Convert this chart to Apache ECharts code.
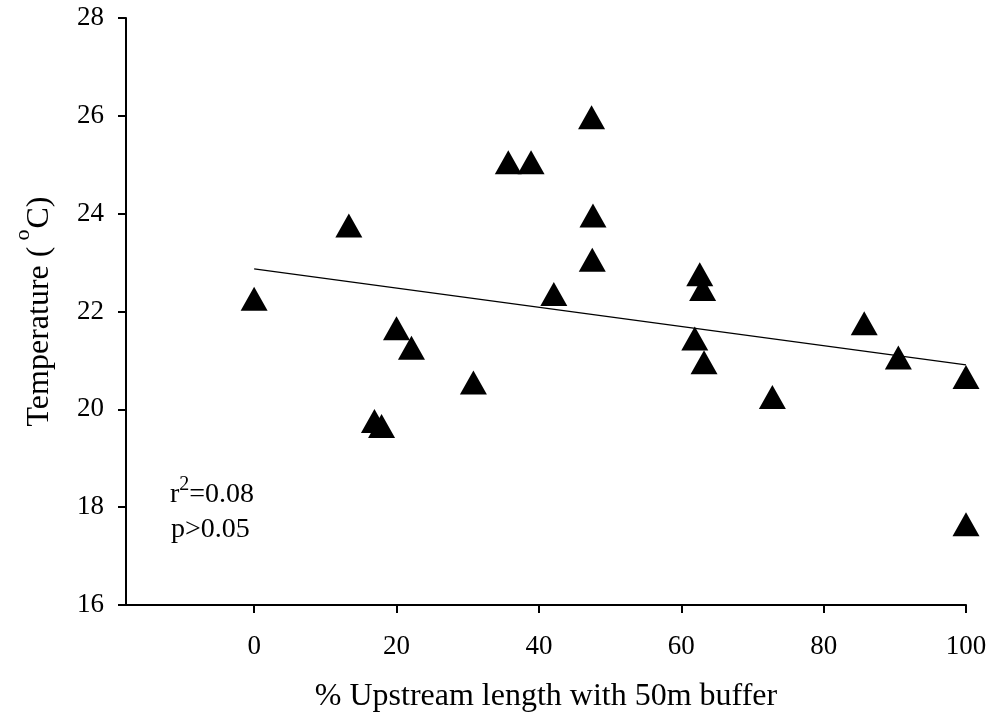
<!DOCTYPE html>
<html><head><meta charset="utf-8">
<script src="https://cdn.jsdelivr.net/npm/echarts@6/dist/echarts.min.js"></script>
<style>html,body{margin:0;padding:0;background:#fff}#c{width:992px;height:721px}</style>
</head><body><div id="c"></div>
<script>
// % upstream length with 50 m buffer
const pctBuffer = [0, 13.3, 16.9, 17.9, 20.0, 22.1, 30.8, 35.7, 38.9, 42.1, 47.4, 47.6, 47.5, 61.9, 62.6, 63.0, 63.2, 72.8, 85.7, 90.5, 100, 100];
// Temperature (°C)
const temperature = [22.26, 23.76, 19.76, 19.66, 21.66, 21.26, 20.55, 25.05, 25.05, 22.36, 25.97, 23.96, 23.06, 21.45, 22.76, 22.46, 20.96, 20.25, 21.76, 21.06, 20.66, 17.65];
// Linear trend line end points
const trendX = [0, 100];
const trendY = [22.87, 20.91];
// Axis ticks
const xTicks = [0, 20, 40, 60, 80, 100];
const yMin = 16, yMax = 28, yStep = 2;
const xMin = -18, xMax = 100;
const statsR2 = '0.08';
const statsP = '0.05';

const FONT = 'Liberation Serif';
const chart = echarts.init(document.getElementById('c'), null, {renderer: 'canvas'});
chart.setOption({
  animation: false,
  backgroundColor: '#ffffff',
  grid: {left: 126, right: 26, top: 18, bottom: 116, containLabel: false},
  xAxis: {
    type: 'value', min: xMin, max: xMax,
    name: '% Upstream length with 50m buffer',
    nameLocation: 'middle', nameGap: 76,
    nameTextStyle: {fontFamily: FONT, fontSize: 32, color: '#000'},
    axisLine: {show: true, onZero: false, lineStyle: {color: '#000', width: 2}},
    axisTick: {show: true, customValues: xTicks, length: 8, lineStyle: {color: '#000', width: 2}},
    axisLabel: {show: true, customValues: xTicks, margin: 28, fontFamily: FONT, fontSize: 27, color: '#000'},
    splitLine: {show: false}
  },
  yAxis: {
    type: 'value', min: yMin, max: yMax, interval: yStep,
    name: '{b|Temperature (}{s|o}{b|C)}',
    nameLocation: 'middle', nameGap: 70,
    nameTextStyle: {
      fontFamily: FONT, color: '#000',
      rich: {
        b: {fontFamily: FONT, fontSize: 32, lineHeight: 44, verticalAlign: 'bottom', color: '#000'},
        s: {fontFamily: FONT, fontSize: 22, lineHeight: 22, verticalAlign: 'top', color: '#000', padding: [0, 1, 0, 6]}
      }
    },
    axisLine: {show: true, onZero: false, lineStyle: {color: '#000', width: 2}},
    axisTick: {show: true, length: 8, lineStyle: {color: '#000', width: 2}},
    axisLabel: {margin: 22, fontFamily: FONT, fontSize: 27, color: '#000'},
    splitLine: {show: false}
  },
  graphic: [
    {
      type: 'text', left: 170, top: 475, z: 10,
      style: {
        text: '{b|r}{s|2}{b|=' + statsR2 + '}',
        rich: {
          b: {fontFamily: FONT, fontSize: 28, lineHeight: 34, verticalAlign: 'bottom', fill: '#000'},
          s: {fontFamily: FONT, fontSize: 20, lineHeight: 20, verticalAlign: 'top', fill: '#000'}
        }
      }
    },
    {
      type: 'text', left: 171, top: 516, z: 10,
      style: {text: 'p>' + statsP, font: '28px "' + FONT + '"', fill: '#000'}
    }
  ],
  series: [
    {
      type: 'line',
      data: trendX.map((x, i) => [x, trendY[i]]),
      symbol: 'none',
      lineStyle: {color: '#000', width: 1.3},
      z: 3, silent: true
    },
    {
      type: 'scatter',
      data: pctBuffer.map((x, i) => [x, temperature[i]]),
      symbol: 'triangle',
      symbolSize: [27, 24],
      itemStyle: {color: '#000', opacity: 1},
      z: 2
    }
  ]
});
</script>
</body></html>
